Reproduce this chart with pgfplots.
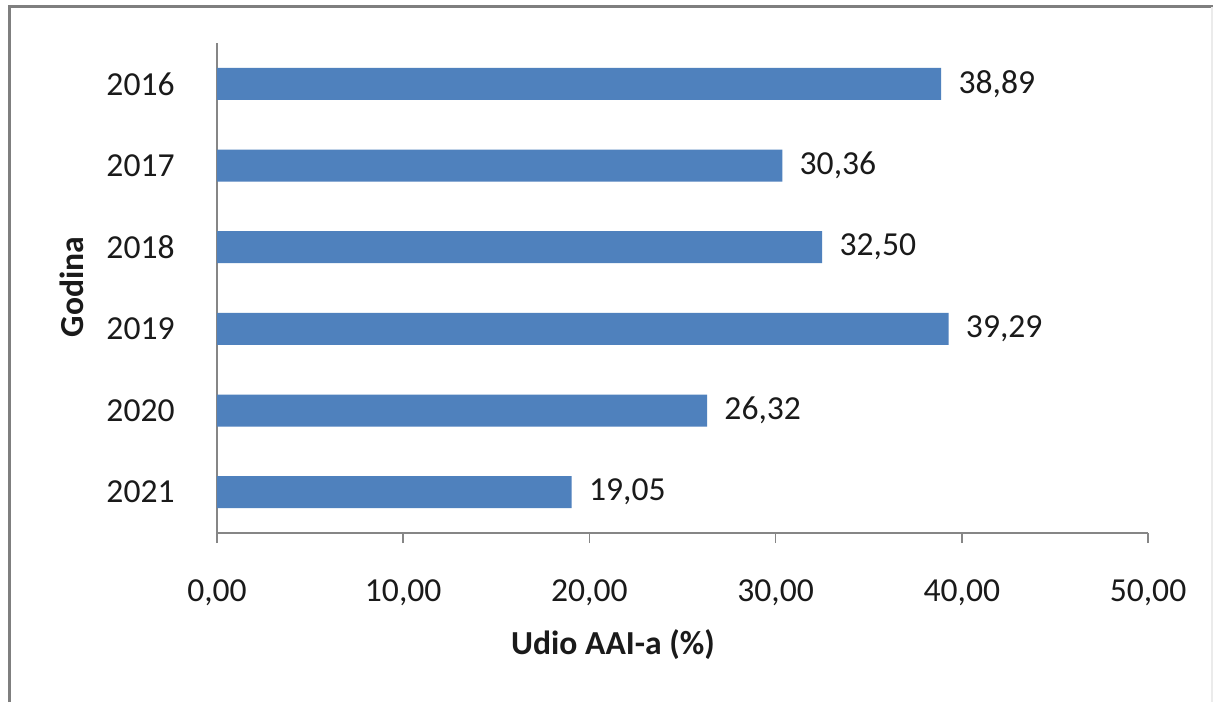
\documentclass[border=0pt]{standalone}
\usepackage{pgfplots}
\pgfplotsset{compat=1.18}
\usepackage{fontspec}
\setmainfont{Carlito}

\definecolor{barblue}{HTML}{4F81BD}
\definecolor{axisgray}{HTML}{868686}
\definecolor{framegray}{HTML}{7F7F7F}
\definecolor{txt}{HTML}{1A1A1A}

\newcommand{\chartfont}{\fontsize{16.8}{20}\selectfont}

\begin{document}
\begin{tikzpicture}
% 1 px of the reference = 0.5pt
\useasboundingbox (0,0) rectangle (610.5pt,351pt);
\fill[white] (0,0) rectangle (610.5pt,351pt);
\draw[framegray, line width=1.5pt] (4.5pt,0) -- (4.5pt,347.5pt) -- (606.5pt,347.5pt);
\draw[black!8, line width=1pt] (606pt,347.5pt) -- (606pt,0);

\begin{axis}[
    at={(108.5pt,84.5pt)}, anchor=south west,
    scale only axis,
    width=465.5pt, height=245pt,
    xmin=0, xmax=50,
    ymin=-0.5, ymax=5.5,
    axis x line=bottom, axis y line=left,
    axis line style={-, axisgray, line width=0.8pt},
    xtick={0,10,20,30,40,50},
    ytick={0,1,2,3,4,5},
    yticklabels={2021,2020,2019,2018,2017,2016},
    tick align=outside,
    major tick length=5pt,
    xtick style={axisgray, line width=0.8pt},
    ytick style={draw=none},
    every tick label/.append style={font=\chartfont, text=txt, inner sep=0pt},
    xticklabel shift=18pt,
    yticklabel shift=16pt,
    /pgf/number format/.cd, use comma, fixed, fixed zerofill, precision=2, assume math mode=true,
    /pgfplots/.cd,
    xlabel={\textbf{Udio AAI-a (\%)}},
    ylabel={\textbf{Godina}},
    xlabel style={at={(axis description cs:0.4253,0)}, anchor=center, yshift=-56pt, font=\chartfont, text=txt},
    ylabel style={at={(axis description cs:-0.1557,0.502)}, anchor=center, font=\chartfont, text=txt},
    xbar, bar width=16pt,
    point meta=x,
    nodes near coords,
    every node near coord/.append style={font=\chartfont, text=txt, anchor=west, inner sep=0pt, xshift=8.5pt},
]
\addplot[fill=barblue, draw=none] coordinates {
    (19.05,0)
    (26.32,1)
    (39.29,2)
    (32.50,3)
    (30.36,4)
    (38.89,5)
};
\end{axis}
\end{tikzpicture}
\end{document}
